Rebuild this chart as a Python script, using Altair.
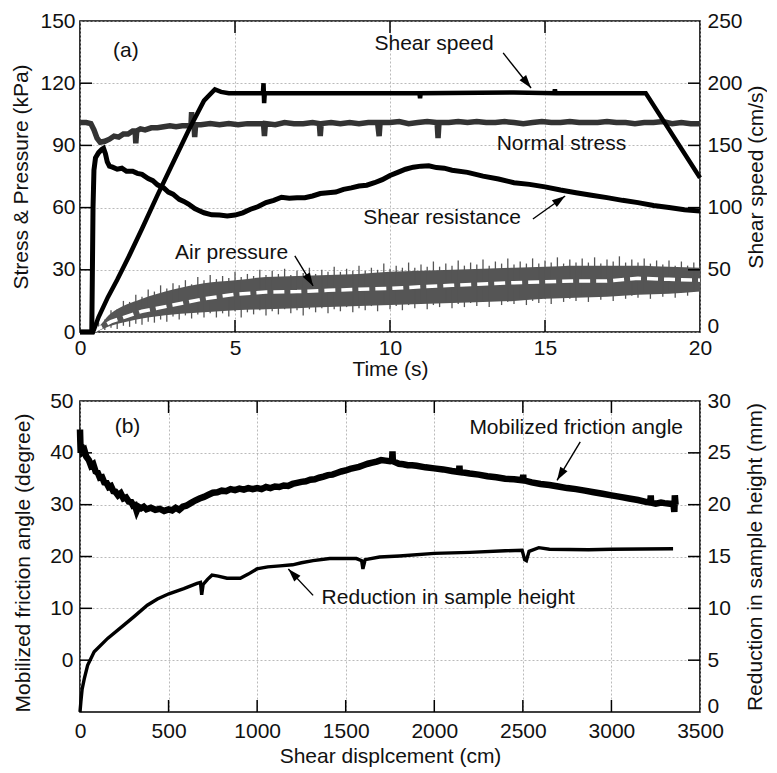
import math
import altair as alt
import pandas as pd

FONT = "Liberation Sans"
FS = 21
W, H = 620, 311
TICK = 12

# ---------------- Panel (a) ----------------
time_ticks = [0, 5, 10, 15, 20]
stress_ticks = [0, 30, 60, 90, 120, 150]
speed_ticks = [0, 50, 100, 150, 200, 250]

normal_stress = [
    (0, 101), (0.2, 101), (0.35, 100.5), (0.45, 97.5), (0.55, 93.5), (0.65, 91.5), (0.8, 92),
    (0.95, 93), (1.1, 94.5), (1.25, 94), (1.4, 95.5), (1.55, 95.5), (1.7, 97), (1.78, 97),
    (1.8, 91), (1.83, 97), (1.95, 98), (2.1, 97.5), (2.3, 98.5), (2.5, 98.5), (2.7, 99),
    (2.9, 99.5), (3.1, 99), (3.3, 99.5), (3.5, 99.5), (3.58, 99.5), (3.6, 106), (3.63, 99.5),
    (3.68, 99.5), (3.7, 94), (3.73, 100), (3.9, 100), (4.2, 100.5), (4.5, 100), (4.8, 100.5),
    (5.1, 100), (5.4, 100.5), (5.7, 100.5), (5.92, 100.5), (5.95, 94.5), (5.98, 100.5),
    (6.3, 100), (6.6, 101), (6.9, 100.5), (7.2, 100.5), (7.5, 101), (7.72, 100.5), (7.75, 94.5),
    (7.78, 100.5), (8.1, 101), (8.4, 100.5), (8.7, 101), (9.0, 100.5), (9.3, 101), (9.6, 101),
    (9.65, 94.5), (9.68, 101), (10.0, 101), (10.3, 101.5), (10.6, 100.5), (10.9, 101),
    (11.2, 101.5), (11.5, 101), (11.52, 101), (11.55, 93.5), (11.58, 101), (11.9, 101),
    (12.2, 101.5), (12.5, 101), (12.8, 101.5), (13.1, 101), (13.4, 101), (13.7, 101.5),
    (14.0, 101), (14.3, 100.5), (14.6, 101), (14.9, 101.5), (15.2, 101), (15.5, 101),
    (15.8, 101.5), (16.1, 101), (16.4, 101), (16.7, 101), (17.0, 101.5), (17.3, 101),
    (17.6, 101), (17.9, 100.5), (18.2, 101), (18.5, 101), (18.8, 101.5), (19.1, 100.5),
    (19.4, 101), (19.7, 100.5), (20.0, 100.5),
]

shear_resistance = [
    (0, 0), (0.38, 0), (0.40, 30), (0.42, 60), (0.45, 78), (0.5, 84), (0.6, 86.5), (0.7, 88),
    (0.76, 88.6), (0.82, 86), (0.88, 82), (0.95, 80), (1.05, 79.5), (1.2, 78.5), (1.35, 79),
    (1.5, 77.5), (1.7, 77.5), (1.85, 76.5), (2.0, 76), (2.2, 74), (2.35, 73), (2.5, 71),
    (2.7, 69.5), (2.85, 67.5), (3.0, 66.5), (3.2, 64), (3.35, 63), (3.5, 61.7), (3.7, 59.5),
    (3.85, 58.5), (4.0, 57.5), (4.25, 56.5), (4.5, 56.4), (4.75, 56), (5.0, 56.4), (5.25, 57.5),
    (5.5, 59.2), (5.75, 60.5), (6.0, 62.4), (6.25, 63.5), (6.5, 65), (6.75, 64.5), (7.0, 64.8),
    (7.25, 64.8), (7.5, 65.6), (7.75, 66.8), (8.0, 67.2), (8.25, 67.5), (8.5, 68.8), (8.75, 69.5),
    (9.0, 70.4), (9.25, 70.8), (9.5, 72), (9.75, 73.5), (10.0, 75.5), (10.25, 77), (10.5, 78.5),
    (10.75, 79.5), (11.0, 80), (11.25, 80.2), (11.5, 79.3), (11.75, 79), (12.0, 78), (12.5, 77),
    (13.0, 75.2), (13.5, 73.8), (14.0, 72), (14.5, 71.2), (15.0, 70), (15.5, 68.5), (16.0, 67.2),
    (16.5, 66), (17.0, 64.8), (17.5, 63.5), (18.0, 62.4), (18.5, 61), (19.0, 60), (19.5, 59),
    (20.0, 58.4),
]

shear_speed = [
    (0, 0), (0.42, 0), (0.6, 12), (0.9, 28), (1.2, 42), (1.6, 62), (2.0, 83), (2.5, 110),
    (3.0, 136), (3.5, 162), (4.0, 186), (4.35, 195), (4.55, 193), (4.8, 192), (5.9, 192),
    (5.92, 200), (5.94, 184), (5.96, 192), (10.95, 192), (10.97, 188), (10.99, 192),
    (14.0, 192.5), (15.3, 192), (15.32, 195), (15.34, 192), (18.25, 192), (20.0, 124),
]

# air pressure: noise extremes (hairlines) every 0.2 s
air_time = [round(0.2 * i, 1) for i in range(101)]
air_upper = [
    1.2, 1.0,
    1, 4.5, 6, 10.5, 11, 15, 14.5, 18, 17, 20.5,
    19.5, 22.5, 21, 23.5, 22.5, 25, 23, 26.5, 25, 27.5,
    25.5, 27, 26, 29, 26.5, 28, 27, 30, 27.5, 29.5,
    28, 30.5, 27.5, 29.5, 28.5, 31, 28, 30, 29, 31.5,
    29, 30.5, 29.5, 32, 29.5, 31, 30, 33, 30.5, 32,
    31, 33.5, 31, 32.5, 31.5, 34, 31.5, 33, 32, 34.5,
    32, 33.5, 32.5, 35, 32, 34, 33, 35.5, 32.5, 34,
    33, 35.5, 33, 34.5, 33.5, 36, 33, 35, 33.5, 35.5,
    33.5, 36, 33, 35, 34, 36.5, 33.5, 35, 33.5, 35.5,
    33, 34.5, 32.5, 34.5, 32, 34, 32, 33.5, 32,
]
air_lower = [
    0, 0,
    0, 0.5, 1, 2, 1.5, 3, 2.5, 4, 3.5, 5,
    4.5, 6, 5, 7.5, 6, 8, 6.5, 8.5, 7, 9,
    7, 9, 7.5, 10, 7, 9.5, 8.5, 10.5, 8, 10,
    8.5, 11, 9, 10.5, 8, 11, 9.5, 11.5, 9, 11,
    10, 12, 9.5, 11.5, 10.5, 12.5, 10, 13, 11, 12.5,
    10.5, 13, 11.5, 13.5, 11, 13, 12, 14, 11.5, 13.5,
    12, 14, 12.5, 14.5, 12, 15, 13, 14.5, 13.5, 15.5,
    13, 15, 14, 16, 13.5, 16.5, 14.5, 16, 15, 17,
    14.5, 17, 15.5, 17.5, 15, 18, 16, 17.5, 16.5, 18.5,
    16, 18.5, 17, 19, 16.5, 19, 17.5, 19.5, 18,
]
# air pressure: dense core of the band
air_core_time = [0, 0.4, 1, 2, 3, 4, 5, 6, 7, 8, 9, 10, 11, 12, 13, 14, 15, 16, 17, 18, 19, 20]
air_core_upper = [0.8, 0.8, 9, 16, 20.5, 23.5, 25, 26.5, 27, 27.5, 28, 29, 29.5, 30, 30.5, 31,
                  31.5, 32, 32, 32, 31.5, 31]
air_core_lower = [0, 0, 3, 6.5, 8.5, 9.5, 10.5, 11, 11.5, 12, 12.5, 13, 13.5, 14, 14.5, 15, 16,
                  16.5, 17, 18, 18.5, 19.5]
air_mean_time = [0.4, 1, 2, 3, 4, 5, 6, 7, 8, 9, 10, 11, 12, 13, 14, 15, 16, 17, 18, 19, 20]
air_mean_value = [0, 5, 10, 13, 16, 18.2, 19.3, 19.5, 20.1, 20.6, 21, 21.8, 22.5, 23.2, 23.8,
                  24.2, 24.6, 24.6, 25.9, 25.4, 25]

labels_a = [("(a)", 1.48, 135.5), ("Shear speed", 11.42, 138.9), ("Normal stress", 15.53, 90.7),
            ("Shear resistance", 11.68, 55.0), ("Air pressure", 4.89, 38.2)]
arrows_a = [(13.65, 134.6, 14.55, 117.7), (14.61, 54.5, 15.65, 65.6), (6.93, 36.7, 7.52, 22.2)]

# ---------------- Panel (b) ----------------
disp_ticks = [0, 500, 1000, 1500, 2000, 2500, 3000, 3500]
angle_ticks = [0, 10, 20, 30, 40, 50]
height_ticks = [0, 5, 10, 15, 20, 25, 30]

friction_angle = [
    (0, 44.5), (2, 42), (4, 40), (8, 41.5), (15, 40.2), (25, 40.5), (35, 39.3), (50, 38.6),
    (62, 37.5), (75, 37.8), (88, 36.4), (100, 36.2), (112, 35.2), (125, 35.3), (137, 34.3),
    (150, 34.2), (162, 33.4), (175, 33.6), (188, 32.6), (200, 32.5), (215, 31.8), (230, 32.2),
    (245, 31.2), (260, 31.4), (275, 30.6), (290, 30.5), (300, 29.8), (310, 29.9), (320, 28.8),
    (330, 29.6), (345, 29.3), (360, 29.6), (375, 29.1), (400, 29.4), (425, 29.0), (450, 29.2),
    (475, 28.8), (500, 29.1), (520, 28.9), (540, 29.4), (560, 29.0), (580, 29.6), (600, 29.8),
    (625, 30.3), (650, 30.8), (675, 31.2), (700, 31.5), (725, 31.9), (750, 32.3), (775, 32.4),
    (800, 32.7), (825, 32.6), (850, 33.0), (875, 32.8), (900, 33.1), (925, 32.9), (950, 33.2),
    (975, 33.0), (1000, 33.2), (1025, 33.0), (1050, 33.4), (1075, 33.2), (1100, 33.5),
    (1125, 33.4), (1150, 33.7), (1175, 33.6), (1200, 34.0), (1225, 34.2), (1250, 34.4),
    (1275, 34.5), (1300, 34.8), (1325, 34.9), (1350, 35.2), (1375, 35.4), (1400, 35.7),
    (1425, 35.8), (1450, 36.1), (1475, 36.4), (1500, 36.6), (1525, 36.9), (1550, 37.1),
    (1575, 37.3), (1600, 37.6), (1625, 37.9), (1650, 38.1), (1675, 38.3), (1700, 38.6),
    (1725, 38.5), (1750, 38.4), (1762, 38.5), (1764, 40.3), (1766, 38.4), (1800, 37.9),
    (1825, 37.8), (1850, 37.6), (1875, 37.6), (1900, 37.5), (1950, 37.2), (2000, 37.0),
    (2050, 36.8), (2100, 36.5), (2140, 36.3), (2142, 37.5), (2144, 36.3), (2200, 36.0),
    (2250, 35.8), (2300, 35.5), (2350, 35.3), (2400, 35.0), (2450, 34.9), (2500, 34.7),
    (2502, 35.8), (2504, 34.7), (2550, 34.3), (2600, 34.0), (2650, 33.8), (2700, 33.5),
    (2750, 33.2), (2800, 33.0), (2850, 32.7), (2900, 32.4), (2950, 32.1), (3000, 31.8),
    (3050, 31.5), (3100, 31.2), (3150, 30.9), (3200, 30.5), (3220, 30.4), (3222, 31.8),
    (3224, 30.4), (3250, 30.2), (3280, 30.4), (3300, 30.3), (3330, 30.2), (3350, 30.2),
    (3355, 28.6), (3358, 31.8), (3362, 30.0),
]

height_reduction = [
    (0, 0), (5, 1.0), (12, 2.2), (24, 3.2), (43, 4.5), (80, 5.8), (156, 7.1), (249, 8.4),
    (305, 9.2), (380, 10.3), (437, 10.9), (502, 11.4), (586, 11.9), (661, 12.4), (680, 12.5),
    (687, 11.3), (695, 12.3), (720, 12.8), (745, 13.2), (780, 13.1), (830, 12.9), (905, 12.9),
    (950, 13.3), (998, 13.8), (1060, 14.0), (1129, 14.1), (1200, 14.2), (1250, 14.4),
    (1316, 14.6), (1410, 14.8), (1560, 14.8), (1590, 14.6), (1597, 13.8), (1610, 14.7),
    (1691, 14.95), (1803, 15.05), (2000, 15.3), (2200, 15.4), (2400, 15.55), (2496, 15.6),
    (2510, 14.7), (2520, 14.6), (2535, 15.5), (2590, 15.85), (2650, 15.7), (2871, 15.65),
    (3000, 15.7), (3348, 15.75),
]

labels_b = [("(b)", 268, 45.0), ("Mobilized friction angle", 2801, 44.7),
            ("Reduction in sample height", 2079, 11.9)]
arrows_b = [(2824, 42.1, 2693, 34.7), (1316, 12.5, 1176, 17.6)]

# ---------------- helpers ----------------
HEAD = "M0,0L0.32,1L-0.32,1Z"


def xenc(field, dom, ticks, title, lpad, tpad):
    return alt.X(field, type="quantitative",
                 scale=alt.Scale(domain=dom, nice=False, zero=False),
                 axis=alt.Axis(values=ticks, title=title, labelPadding=lpad, titlePadding=tpad,
                               labelFlush=False, labelOverlap=False, format="d"))


def yenc(field, dom, ticks, title, orient, grid, lpad, tpad, **extra):
    kw = dict(values=ticks, title=title, orient=orient, grid=grid, labelPadding=lpad,
              titlePadding=tpad, labelOverlap=False, labelFlush=False, format="d")
    if orient == "right":
        kw["titleAngle"] = 270
        kw["titleBaseline"] = "top"
        kw["labelBaseline"] = {"condition": {"test": "datum.value == 0", "value": "alphabetic"},
                               "value": "middle"}
    kw.update(extra)
    return alt.Y(field, type="quantitative",
                 scale=alt.Scale(domain=dom, nice=False, zero=False), axis=alt.Axis(**kw))


def build_panel(X, YL, YR, xdom, ydom, left_layers, right_layers, xticks_inner, yl_inner, yr_inner,
                labels, arrows):
    sx = W / (xdom[1] - xdom[0])
    sy = H / (ydom[1] - ydom[0])
    lab_df = pd.DataFrame(labels, columns=["text", "x", "y"])
    arr_df = pd.DataFrame(arrows, columns=["x", "y", "x2", "y2"])
    arr_df["ang"] = [
        math.degrees(math.atan2((r.x2 - r.x) * sx, (r.y2 - r.y) * sy)) % 360
        for r in arr_df.itertuples()
    ]
    txt = alt.Chart(lab_df).mark_text(font=FONT, fontSize=FS, color="#111", align="center",
                                      baseline="middle").encode(x=X("x"), y=YL("y"), text="text:N")
    shaft = alt.Chart(arr_df).mark_rule(color="black", strokeWidth=1.4).encode(
        x=X("x"), y=YL("y"), x2="x2:Q", y2="y2:Q")
    head = alt.Chart(arr_df).mark_point(shape=HEAD, filled=True, color="black", opacity=1,
                                        size=700, strokeWidth=0).encode(
        x=X("x2"), y=YL("y2"), angle=alt.Angle("ang:Q", scale=None))
    xt = pd.DataFrame({"x": xticks_inner})
    tick_top = alt.Chart(xt).mark_rule(color="black", strokeWidth=1.5).encode(
        x=X("x"), y=alt.value(0), y2=alt.value(TICK))
    tick_bot = alt.Chart(xt).mark_rule(color="black", strokeWidth=1.5).encode(
        x=X("x"), y=alt.value(H), y2=alt.value(H - TICK))
    tick_l = alt.Chart(pd.DataFrame({"y": yl_inner})).mark_rule(color="black", strokeWidth=1.5).encode(
        y=YL("y"), x=alt.value(0), x2=alt.value(TICK))
    tick_r = alt.Chart(pd.DataFrame({"y": yr_inner})).mark_rule(color="black", strokeWidth=1.5).encode(
        y=YR("y"), x=alt.value(W), x2=alt.value(W - TICK))
    left = alt.layer(*left_layers, tick_top, tick_bot, tick_l, shaft, head, txt)
    right = alt.layer(*right_layers, tick_r)
    return alt.layer(left, right).resolve_scale(y="independent").properties(width=W, height=H)


# ---------------- panel (a) ----------------
XA = lambda f: xenc(f, [0, 20], time_ticks, "Time (s)", 5, 0)
YAL = lambda f: yenc(f, [0, 150], stress_ticks, "Stress & Pressure (kPa)", "left", True, 5, 8)
YAR = lambda f: yenc(f, [0, 250], speed_ticks, "Shear speed (cm/s)", "right", False, 7, 3)

GREY = "#555555"
core_df = pd.DataFrame({"x": air_core_time, "y": air_core_upper, "y2": air_core_lower})
air_core = alt.Chart(core_df).mark_area(color=GREY, opacity=1, interpolate="monotone").encode(
    x=XA("x"), y=YAL("y"), y2="y2:Q")
air_df = pd.DataFrame({"x": air_time, "y": air_upper, "y2": air_lower})
air_hair = alt.Chart(air_df).mark_rule(color=GREY, strokeWidth=1.3).encode(
    x=XA("x"), y=YAL("y"), y2="y2:Q")
air_mean = alt.Chart(pd.DataFrame({"x": air_mean_time, "y": air_mean_value})).mark_line(
    color="white", strokeWidth=3.5, strokeDash=[11, 6]).encode(x=XA("x"), y=YAL("y"))
normal_line = alt.Chart(pd.DataFrame(normal_stress, columns=["x", "y"])).mark_line(
    color="#333333", strokeWidth=5.5).encode(x=XA("x"), y=YAL("y"))
resist_line = alt.Chart(pd.DataFrame(shear_resistance, columns=["x", "y"])).mark_line(
    color="black", strokeWidth=5).encode(x=XA("x"), y=YAL("y"))
speed_line = alt.Chart(pd.DataFrame(shear_speed, columns=["x", "y"])).mark_line(
    color="black", strokeWidth=4.5).encode(x=XA("x"), y=YAR("y"))

panel_a = build_panel(XA, YAL, YAR, [0, 20], [0, 150],
                      [air_core, air_hair, air_mean, normal_line, resist_line], [speed_line],
                      [5, 10, 15], [30, 60, 90, 120], [50, 100, 150, 200], labels_a, arrows_a)

# ---------------- panel (b) ----------------
XB = lambda f: xenc(f, [0, 3500], disp_ticks, "Shear displcement (cm)", 8, 4)
YBL = lambda f: yenc(f, [-10, 50], angle_ticks, "Mobilized friction angle (degree)", "left", True,
                     7, 1, titleX=-47, titleY=H / 2 + 6)
YBR = lambda f: yenc(f, [0, 30], height_ticks, "Reduction in sample height (mm)", "right", False,
                     7, 14)

angle_line = alt.Chart(pd.DataFrame(friction_angle, columns=["x", "y"])).mark_line(
    color="black", strokeWidth=6.5).encode(x=XB("x"), y=YBL("y"))
height_line = alt.Chart(pd.DataFrame(height_reduction, columns=["x", "y"])).mark_line(
    color="black", strokeWidth=3.4).encode(x=XB("x"), y=YBR("y"))

panel_b = build_panel(XB, YBL, YBR, [0, 3500], [-10, 50],
                      [angle_line], [height_line],
                      [500, 1000, 1500, 2000, 2500, 3000], [0, 10, 20, 30, 40],
                      [5, 10, 15, 20, 25], labels_b, arrows_b)

chart = alt.vconcat(panel_a, panel_b, spacing=9).properties(
    padding={"left": 2, "top": 1, "right": 0, "bottom": 0}
).configure_view(stroke="black", strokeWidth=1.6).configure_axis(
    grid=True, gridColor="#a8a8a8", gridDash=[2, 2], gridWidth=0.8, domain=False, ticks=False,
    labelFont=FONT, labelFontSize=FS, titleFont=FONT, titleFontSize=FS, titleFontWeight="normal",
    labelColor="#111", titleColor="#111")

chart.save("out.html", embed_options={"renderer": "svg", "actions": False})
